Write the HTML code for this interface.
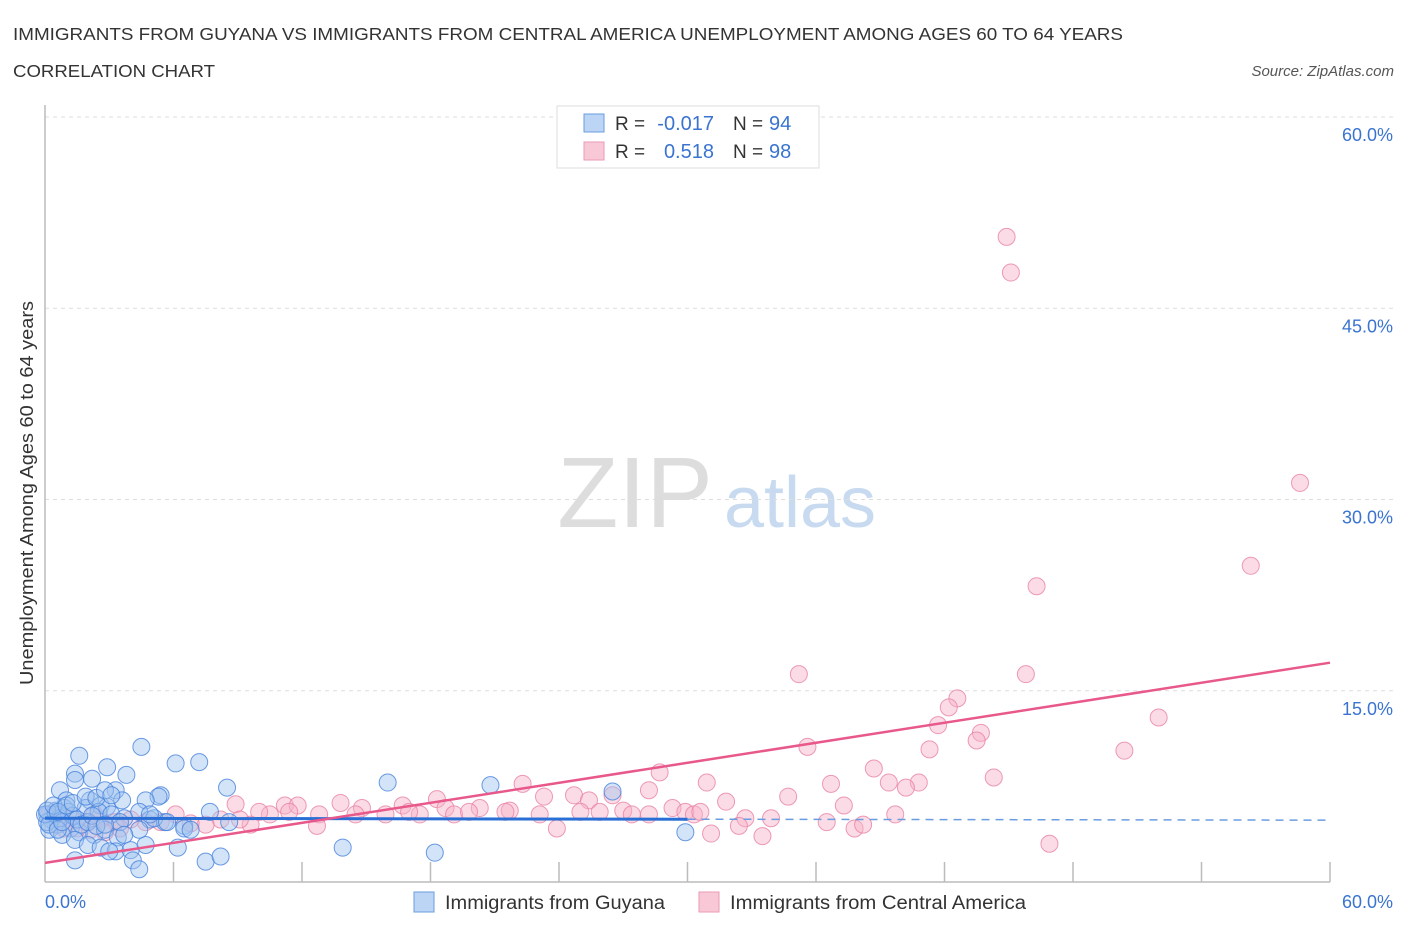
<!DOCTYPE html>
<html><head><meta charset="utf-8"><style>
body{margin:0;background:#fff;font-family:"Liberation Sans",sans-serif;}
svg text{font-family:"Liberation Sans",sans-serif;}
</style></head><body>
<svg id="chart" width="1406" height="930" viewBox="0 0 1406 930" xmlns="http://www.w3.org/2000/svg">
<text x="13" y="40" font-size="17.5" fill="#333" textLength="1110" lengthAdjust="spacingAndGlyphs">IMMIGRANTS FROM GUYANA VS IMMIGRANTS FROM CENTRAL AMERICA UNEMPLOYMENT AMONG AGES 60 TO 64 YEARS</text>
<text x="13" y="77" font-size="17.5" fill="#333" textLength="202" lengthAdjust="spacingAndGlyphs">CORRELATION CHART</text>
<text x="1394" y="76" font-size="15" fill="#555" text-anchor="end" font-style="italic">Source: ZipAtlas.com</text>
<g>
<text x="635" y="527" font-size="100" fill="#ddd" text-anchor="middle" font-family="Liberation Serif">ZIP</text>
<text x="800" y="527" font-size="72" fill="#c8daf0" text-anchor="middle">atlas</text>
</g>
<g id="grid"></g>
<g id="axes"></g>
<g id="marks"></g>
<g id="trends"></g>
<text transform="translate(33,493) rotate(-90)" font-size="18" fill="#333" text-anchor="middle" textLength="384" lengthAdjust="spacingAndGlyphs">Unemployment Among Ages 60 to 64 years</text>
<g>
<rect x="557" y="106" width="262" height="62" fill="#fff" stroke="#ddd"/>
<rect x="584" y="114" width="20" height="18" fill="#bcd5f5" stroke="#6a9de0"/>
<rect x="584" y="142" width="20" height="18" fill="#f9c8d6" stroke="#e99ab5"/>
<text x="615" y="130" font-size="19" fill="#333">R =</text>
<text x="714" y="130" font-size="20" fill="#3a74d0" text-anchor="end">-0.017</text>
<text x="733" y="130" font-size="19" fill="#333">N =</text>
<text x="769" y="130" font-size="20" fill="#3a74d0">94</text>
<text x="615" y="158" font-size="19" fill="#333">R =</text>
<text x="714" y="158" font-size="20" fill="#3a74d0" text-anchor="end">0.518</text>
<text x="733" y="158" font-size="19" fill="#333">N =</text>
<text x="769" y="158" font-size="20" fill="#3a74d0">98</text>
</g>
<g>
<rect x="414" y="892" width="20" height="20" fill="#bcd5f5" stroke="#6a9de0"/>
<text x="445" y="909" font-size="19" fill="#333" textLength="220" lengthAdjust="spacingAndGlyphs">Immigrants from Guyana</text>
<rect x="699" y="892" width="20" height="20" fill="#f9c8d6" stroke="#e99ab5"/>
<text x="730" y="909" font-size="19" fill="#333" textLength="296" lengthAdjust="spacingAndGlyphs">Immigrants from Central America</text>
</g>
</svg>
<script>
const yTicks=[15,30,45,60];
const yTickLabels=["15.0%","30.0%","45.0%","60.0%"];
const xTickCount=10;
const xEndLabels=["0.0%","60.0%"];
const blueX=[1.6,4.5,6.1,7.2,1.4,2.9,3.8,2.2,1.4,8.5,16.0,20.8,5.4,5.3,0.7,3.3,1.0,2.1,2.6,2.9,3.6,4.7,0.5,0.9,1.9,2.5,3.1,3.7,4.4,4.9,5.6,6.5,7.7,8.6,0.1,0.3,0.6,1.2,1.6,2.3,2.8,3.4,0.2,0.8,1.4,2.0,2.6,3.3,4.0,4.7,6.2,7.5,8.2,4.1,4.4,1.4,3.0,13.9,18.2,29.9,26.5,0.1,0.0,0.5,0.7,1.1,1.3,1.5,1.7,2.0,2.2,0.2,0.6,0.8,6.5,5.1,4.9,3.5,2.4,2.8,4.4,3.7,0.1,0.4,0.6,1.0,1.3,1.9,2.4,2.8,3.1,5.7,6.8];
const blueY=[9.9,10.6,9.3,9.4,8.5,9.0,8.4,8.1,8.0,7.4,7.8,7.6,6.8,6.7,7.2,7.2,6.4,6.4,6.0,5.9,6.4,6.4,5.6,5.8,5.8,5.5,5.3,5.0,5.5,4.9,4.7,4.4,5.5,4.7,5.3,4.9,4.5,4.2,3.9,3.7,4.1,3.5,4.1,3.7,3.3,2.9,2.7,2.4,2.5,2.9,2.7,1.6,2.0,1.7,1.0,1.7,2.4,2.7,2.3,3.9,7.1,4.7,5.3,5.3,5.0,5.5,5.2,4.9,4.5,4.7,5.2,4.5,4.1,4.7,4.2,5.0,5.3,4.7,4.4,4.5,4.1,3.7,5.6,6.0,5.5,6.0,6.2,6.7,6.6,7.2,6.8,4.7,4.1];
const pinkX=[44.9,45.1,58.6,56.3,46.3,35.2,45.8,42.6,42.2,41.7,43.7,43.5,52.0,35.6,41.3,50.4,28.7,38.7,44.3,36.7,39.4,40.8,40.2,30.9,22.3,28.2,23.3,24.7,26.5,25.4,18.3,31.8,34.7,37.3,8.9,11.2,11.8,13.8,16.7,14.8,18.7,20.3,21.7,27.0,29.3,29.9,30.3,32.7,33.9,39.7,37.8,38.2,36.5,31.1,33.5,32.4,25.9,27.4,23.9,21.5,19.1,17.5,15.9,12.8,10.5,9.6,8.2,7.5,6.8,6.1,5.4,4.7,4.0,3.3,2.6,1.9,1.2,0.7,0.2,0.5,0.9,1.5,2.1,2.8,46.9,12.7,14.5,17.0,19.8,23.1,25.0,28.2,30.6,11.4,10.0,9.1,3.5,2.3];
const pinkY=[50.6,47.8,31.3,24.8,23.2,16.3,16.3,14.4,13.7,12.3,11.7,11.1,12.9,10.6,10.4,10.3,8.6,8.9,8.2,7.7,7.8,7.8,7.4,7.8,7.7,7.2,6.7,6.8,6.8,6.4,6.5,6.3,6.7,6.0,6.1,6.0,6.0,6.2,6.0,5.8,5.8,5.8,5.6,5.6,5.8,5.5,5.3,5.0,5.0,5.3,4.2,4.5,4.7,3.8,3.6,4.4,5.5,5.3,4.2,5.5,5.3,5.3,5.3,5.3,5.3,4.5,4.9,4.5,4.6,5.3,4.7,4.7,4.9,4.7,4.9,4.7,5.0,5.3,5.3,4.5,4.2,4.2,4.1,3.9,3.0,4.4,5.3,5.5,5.5,5.3,5.5,5.3,5.5,5.5,5.5,4.9,4.2,5.3];
const trendBlue=[5.0,4.85];
const trendBlueSolidEnd=30;
const trendPink=[1.5,17.2];

const NS="http://www.w3.org/2000/svg";
const X0=45,X1=1330,Y0=882,Y1=117;
const xs=v=>X0+(v/60)*(X1-X0);
const ys=v=>Y0-(v/60)*(Y0-Y1);
function mk(tag,attrs,parent){const e=document.createElementNS(NS,tag);for(const k in attrs)e.setAttribute(k,attrs[k]);parent.appendChild(e);return e;}
const grid=document.getElementById('grid'),axes=document.getElementById('axes'),marks=document.getElementById('marks'),trends=document.getElementById('trends');
yTicks.forEach((t,i)=>{
  const l=mk('line',{x1:X0,x2:1395,y1:ys(t),y2:ys(t),stroke:'#ddd','stroke-dasharray':'4,4'},grid);
  
  
  const tx=mk('text',{x:1393,y:ys(t)+24,'font-size':18,fill:'#3a74d0','text-anchor':'end'},axes);
  tx.textContent=yTickLabels[i];
  
  
});
mk('line',{x1:X0,x2:X0,y1:105,y2:Y0,stroke:'#bbb','stroke-width':1.5},axes);
mk('line',{x1:X0,x2:X1,y1:Y0,y2:Y0,stroke:'#bbb','stroke-width':1.5},axes);
for(let i=1;i<=xTickCount;i++){const x=xs(i*60/xTickCount);
  const t=mk('line',{x1:x,x2:x,y1:Y0,y2:Y0-20,stroke:'#bbb','stroke-width':1.5},axes);
  
  }
const xl0=mk('text',{x:45,y:908,'font-size':18,fill:'#3a74d0'},axes);xl0.textContent=xEndLabels[0];


const xl1=mk('text',{x:1393,y:908,'font-size':18,fill:'#3a74d0','text-anchor':'end'},axes);xl1.textContent=xEndLabels[1];


pinkX.forEach((v,i)=>{const c=mk('circle',{cx:xs(v),cy:ys(pinkY[i]),r:8.5,fill:'rgba(246,178,200,0.45)',stroke:'rgba(232,130,165,0.8)','stroke-width':1},marks);
  
  });
blueX.forEach((v,i)=>{const c=mk('circle',{cx:xs(v),cy:ys(blueY[i]),r:8.5,fill:'rgba(160,196,240,0.45)',stroke:'rgba(70,130,220,0.8)','stroke-width':1},marks);
  
  });
const bAt=v=>trendBlue[0]+(trendBlue[1]-trendBlue[0])*v/60;
const bl=mk('line',{x1:xs(0),y1:ys(bAt(0)),x2:xs(trendBlueSolidEnd),y2:ys(bAt(trendBlueSolidEnd)),stroke:'#2a6fd6','stroke-width':3},trends);


const bd=mk('line',{x1:xs(trendBlueSolidEnd),y1:ys(bAt(trendBlueSolidEnd)),x2:xs(60),y2:ys(bAt(60)),stroke:'#6a9de0','stroke-width':1.5,'stroke-dasharray':'8,6'},trends);


const pl=mk('line',{x1:xs(0),y1:ys(trendPink[0]),x2:xs(60),y2:ys(trendPink[1]),stroke:'#e8588a','stroke-width':2.5},trends);


</script>
</body></html>
